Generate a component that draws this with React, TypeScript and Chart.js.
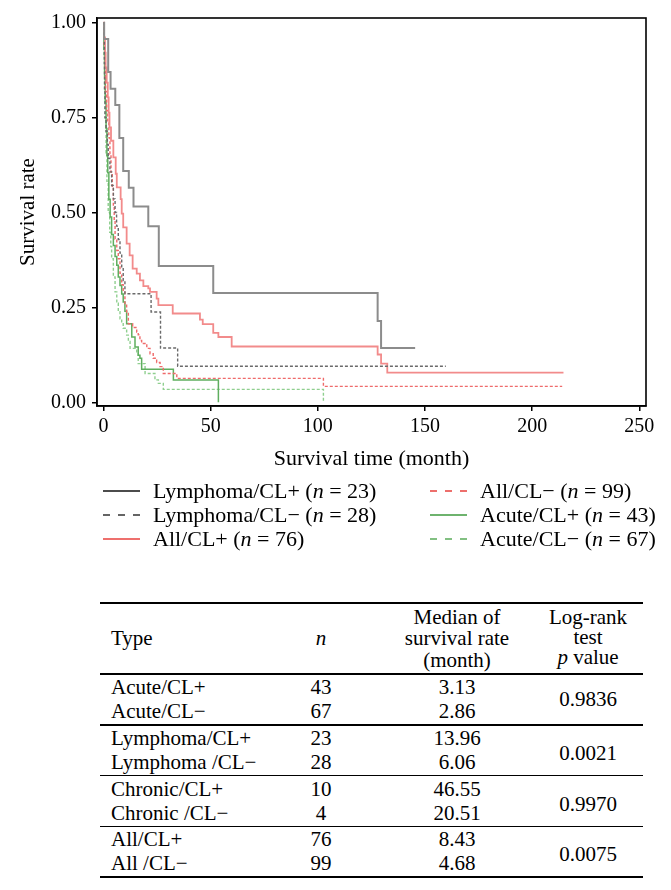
import React, { useEffect, useRef } from 'react';
import { Chart, registerables } from 'chart.js';
Chart.register(...registerables);

const FONT = '"Liberation Serif", "Times New Roman", serif';

// ---- survival curves (time in months, survival rate) ----
const lymphPosT = [0, 0.3, 2.2, 3.3, 5.5, 7.4, 9.2, 11.8, 14.0, 20.9, 25.8, 51.2, 127.9, 129.5, 145.4];
const lymphPosS = [1, 0.957, 0.87, 0.826, 0.783, 0.696, 0.609, 0.565, 0.516, 0.464, 0.359, 0.288, 0.214, 0.143, 0.143];

const lymphNegT = [0, 0.2, 0.4, 0.5, 0.7, 1.2, 1.8, 2.2, 3.0, 3.8, 4.6, 5.4, 6.1, 6.9, 7.7, 8.5, 9.2, 10.0, 22.2, 26.6, 34.6, 159.7];
const lymphNegS = [1, 0.964, 0.893, 0.821, 0.75, 0.714, 0.679, 0.643, 0.607, 0.571, 0.536, 0.5, 0.464, 0.429, 0.393, 0.357, 0.321, 0.286, 0.238, 0.143, 0.095, 0.095];

const allPosT = [0, 0.3, 0.7, 1.0, 1.5, 2.0, 2.4, 2.8, 3.5, 4.6, 5.7, 6.2, 8.0, 8.5, 9.2, 10.8, 12.2, 13.6, 15.5, 17.0, 18.6, 20.9, 21.7, 24.8, 25.6, 32.3, 45.0, 46.3, 51.2, 53.6, 59.8, 127.9, 129.5, 132.4, 214.6];
const allPosS = [1, 0.961, 0.921, 0.882, 0.842, 0.803, 0.763, 0.724, 0.689, 0.645, 0.602, 0.566, 0.535, 0.497, 0.461, 0.418, 0.387, 0.352, 0.339, 0.321, 0.306, 0.3, 0.291, 0.273, 0.256, 0.234, 0.218, 0.206, 0.183, 0.172, 0.147, 0.126, 0.102, 0.078, 0.078];

const allNegT = [0, 0.3, 0.6, 1.0, 1.5, 2.0, 2.5, 3.0, 3.5, 4.1, 4.6, 5.0, 5.4, 6.2, 6.9, 7.7, 8.5, 9.2, 10.0, 10.8, 11.6, 13.6, 15.5, 16.2, 17.0, 17.8, 20.2, 21.7, 23.2, 24.8, 26.4, 27.9, 34.2, 102.6, 214.0];
const allNegS = [1, 0.939, 0.879, 0.818, 0.768, 0.737, 0.697, 0.654, 0.606, 0.566, 0.515, 0.479, 0.43, 0.4, 0.378, 0.34, 0.31, 0.291, 0.26, 0.238, 0.207, 0.197, 0.185, 0.178, 0.163, 0.155, 0.142, 0.128, 0.116, 0.105, 0.094, 0.076, 0.063, 0.042, 0.042];

const acutePosT = [0, 0.2, 0.5, 0.8, 1.2, 1.6, 2.0, 2.5, 3.1, 3.8, 4.6, 5.4, 6.2, 6.9, 7.7, 8.5, 9.2, 10.0, 10.8, 13.2, 14.7, 16.2, 17.0, 17.8, 32.6, 53.6];
const acutePosS = [1, 0.93, 0.86, 0.791, 0.721, 0.651, 0.605, 0.535, 0.488, 0.442, 0.413, 0.384, 0.361, 0.33, 0.308, 0.285, 0.264, 0.24, 0.207, 0.172, 0.146, 0.124, 0.116, 0.087, 0.059, 0];

const acuteNegT = [0, 0.2, 0.5, 0.8, 1.2, 1.6, 2.2, 2.9, 3.4, 3.8, 4.6, 5.4, 6.2, 6.9, 7.7, 8.5, 9.2, 10.8, 11.6, 12.4, 15.5, 16.2, 19.4, 24.0, 25.6, 27.9, 102.6];
const acuteNegS = [1, 0.91, 0.821, 0.746, 0.657, 0.582, 0.5, 0.448, 0.41, 0.378, 0.33, 0.291, 0.261, 0.239, 0.22, 0.212, 0.195, 0.177, 0.16, 0.142, 0.129, 0.102, 0.076, 0.059, 0.05, 0.034, 0];

const xTicks = [0, 50, 100, 150, 200, 250];
const yTicks = [0, 0.25, 0.5, 0.75, 1];

// ---- legend ----
const legendNames = ['Lymphoma/CL+', 'Lymphoma/CL\u2212', 'All/CL+', 'All/CL\u2212', 'Acute/CL+', 'Acute/CL\u2212'];
const legendN = [23, 28, 76, 99, 43, 67];

// ---- table ----
const tableTypes = ['Acute/CL+', 'Acute/CL\u2212', 'Lymphoma/CL+', 'Lymphoma /CL\u2212', 'Chronic/CL+', 'Chronic /CL\u2212', 'All/CL+', 'All /CL\u2212'];
const tableN = [43, 67, 23, 28, 10, 4, 76, 99];
const tableMedian = ['3.13', '2.86', '13.96', '6.06', '46.55', '20.51', '8.43', '4.68'];
const tableP = ['0.9836', '0.0021', '0.9970', '0.0075'];

// styles (plot line / legend sample)
const seriesStyles = [
  { t: lymphPosT, s: lymphPosS, color: '#8c8c8c', width: 2, dash: [] as number[], legend: '#111111' },
  { t: lymphNegT, s: lymphNegS, color: '#6a6a6a', width: 1.4, dash: [3, 2], legend: '#333333' },
  { t: allPosT, s: allPosS, color: '#f28b8b', width: 1.8, dash: [] as number[], legend: '#e8403c' },
  { t: allNegT, s: allNegS, color: '#ef6b6b', width: 1.4, dash: [3, 2], legend: '#e8403c' },
  { t: acutePosT, s: acutePosS, color: '#5fae5f', width: 1.5, dash: [] as number[], legend: '#3e9a3e' },
  { t: acuteNegT, s: acuteNegS, color: '#8fcf8f', width: 1.4, dash: [3, 2], legend: '#5aac5a' },
];

const boxPlugin = {
  id: 'plotBox',
  afterDraw(chart: any) {
    const { ctx, chartArea: a } = chart;
    ctx.save();
    ctx.strokeStyle = '#000';
    ctx.lineWidth = 1.6;
    ctx.strokeRect(a.left, a.top, a.right - a.left, a.bottom - a.top);
    ctx.restore();
  },
};

export default function App() {
  const ref = useRef<HTMLCanvasElement>(null);

  useEffect(() => {
    const datasets = seriesStyles.map((st, i) => ({
      label: legendNames[i],
      data: st.t.map((x, k) => ({ x, y: st.s[k] })),
      borderColor: st.color,
      borderWidth: st.width,
      borderDash: st.dash,
      stepped: true as const,
      pointRadius: 0,
      fill: false,
    }));
    const chart = new Chart(ref.current as HTMLCanvasElement, {
      type: 'line',
      data: { datasets },
      options: {
        animation: false,
        responsive: false,
        maintainAspectRatio: false,
        layout: { padding: { top: 17, right: 25, left: 0, bottom: 0 } },
        plugins: { legend: { display: false }, tooltip: { enabled: false } },
        scales: {
          x: {
            type: 'linear',
            min: -3.03,
            max: 253.1,
            afterBuildTicks: (s: any) => { s.ticks = xTicks.map((v) => ({ value: v })); },
            afterFit: (s: any) => { s.height = 74; },
            grid: { drawOnChartArea: false, drawTicks: true, tickLength: 5, color: '#000', lineWidth: 1.5 },
            border: { display: true, color: '#000', width: 1.5 },
            ticks: { color: '#000', font: { family: FONT, size: 20 }, padding: 4, maxRotation: 0, autoSkip: false, callback: (v: any) => String(v) },
            title: { display: true, text: 'Survival time (month)', color: '#000', font: { family: FONT, size: 22 }, padding: { top: 0, bottom: 8 } },
          },
          y: {
            type: 'linear',
            min: -0.0097,
            max: 1.0123,
            afterBuildTicks: (s: any) => { s.ticks = yTicks.map((v) => ({ value: v })); },
            afterFit: (s: any) => { s.width = 97; },
            grid: { drawOnChartArea: false, drawTicks: true, tickLength: 5, color: '#000', lineWidth: 1.5 },
            border: { display: true, color: '#000', width: 1.5 },
            ticks: { color: '#000', font: { family: FONT, size: 20 }, padding: 6, callback: (v: any) => Number(v).toFixed(2) },
            title: { display: true, text: 'Survival rate', color: '#000', font: { family: FONT, size: 21 }, padding: { top: 16, bottom: 0 } },
          },
        },
      },
      plugins: [boxPlugin],
    });
    return () => chart.destroy();
  }, []);

  const legendRows = [491, 515, 539];
  const legendCols = [{ line: 103, text: 153 }, { line: 430, text: 480 }];

  const headerBottom = 674;
  const groupStep = 50.8;
  const groupLines = [0, 1, 2, 3].map((g) => headerBottom + g * groupStep);
  const bottomLine = headerBottom + 4 * groupStep;
  const tLeft = 100, tRight = 643;
  const colN = 321, colMed = 457, colP = 588;

  const textBox = (cx: number, cy: number, content: React.ReactNode, key: string, w = 200, align: 'center' | 'left' = 'center') => (
    <div key={key} style={{ position: 'absolute', left: align === 'center' ? cx - w / 2 : cx, top: cy - 12, width: w, height: 24, lineHeight: '24px', textAlign: align, fontSize: 21, whiteSpace: 'nowrap' }}>{content}</div>
  );

  const hline = (y: number, key: string) => (
    <div key={key} style={{ position: 'absolute', left: tLeft, top: y - 0.75, width: tRight - tLeft, height: 1.5, background: '#000' }} />
  );

  return (
    <div style={{ position: 'absolute', left: 0, top: 0, width: 671, height: 890, background: '#fff', fontFamily: FONT, color: '#000' }}>
      <canvas ref={ref} width={671} height={480} style={{ position: 'absolute', left: 0, top: 0, width: 671, height: 480 }} />

      {seriesStyles.map((st, i) => {
        const col = legendCols[Math.floor(i / 3)];
        const y = legendRows[i % 3];
        return (
          <React.Fragment key={'lg' + i}>
            <svg width={38} height={6} style={{ position: 'absolute', left: col.line, top: y - 3 }}>
              <line x1={0} y1={3} x2={37} y2={3} stroke={st.legend} strokeWidth={1.6} strokeDasharray={st.dash.length ? '7 8' : undefined} />
            </svg>
            <div style={{ position: 'absolute', left: col.text, top: y - 12, height: 24, lineHeight: '24px', fontSize: 22, whiteSpace: 'nowrap' }}>
              {legendNames[i]} (<i>n</i> = {legendN[i]})
            </div>
          </React.Fragment>
        );
      })}

      {hline(603, 'top')}
      {textBox(111, 638, 'Type', 'hType', 100, 'left')}
      {textBox(colN, 638, <i>n</i>, 'hN', 60)}
      {textBox(colMed, 616.5, 'Median of', 'hM1')}
      {textBox(colMed, 638, 'survival rate', 'hM2')}
      {textBox(colMed, 660, '(month)', 'hM3')}
      {textBox(colP, 616.5, 'Log-rank', 'hP1', 120)}
      {textBox(colP, 636.5, 'test', 'hP2', 120)}
      {textBox(colP, 657, <span><i>p</i> value</span>, 'hP3', 120)}
      {groupLines.map((y, g) => hline(y, 'gl' + g))}
      {hline(bottomLine, 'bottom')}
      {tableTypes.map((name, r) => {
        const g = Math.floor(r / 2);
        const y = groupLines[g] + (r % 2 === 0 ? 13 : 37);
        return (
          <React.Fragment key={'row' + r}>
            {textBox(111, y, name, 'ty' + r, 200, 'left')}
            {textBox(colN, y, String(tableN[r]), 'n' + r, 60)}
            {textBox(colMed, y, tableMedian[r], 'm' + r)}
          </React.Fragment>
        );
      })}
      {tableP.map((p, g) => textBox(colP, groupLines[g] + 25 + (g === 0 ? 0 : 3), p, 'p' + g, 120))}
    </div>
  );
}
